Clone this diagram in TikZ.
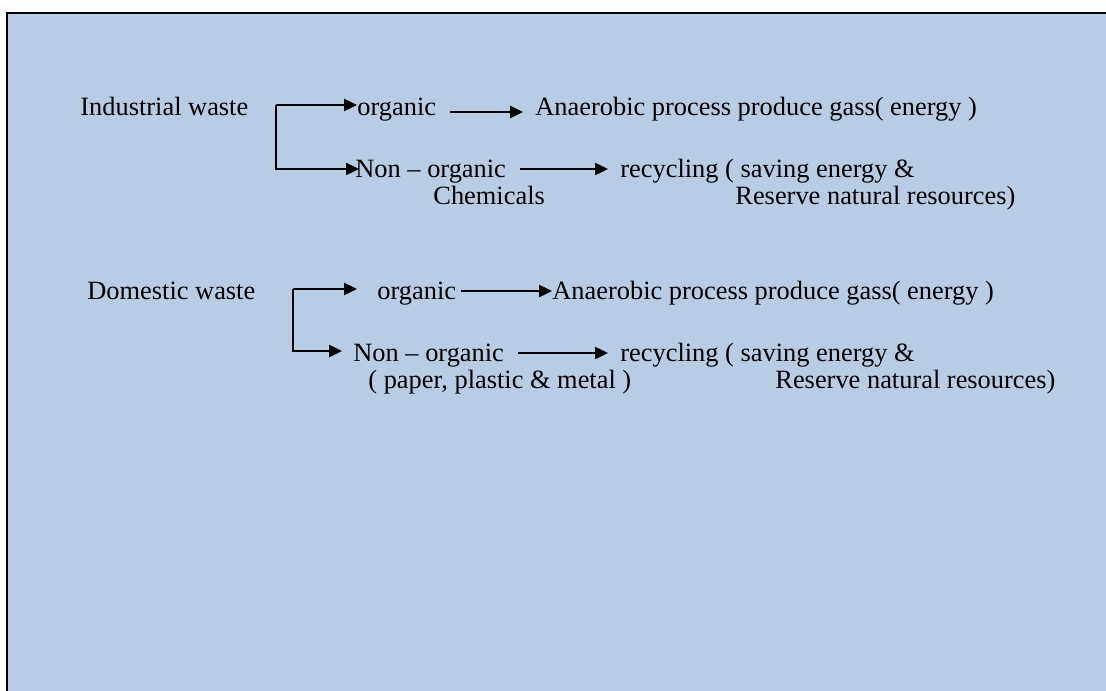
\documentclass[tikz,border=0pt]{standalone}
\usepackage{fontspec}
\setmainfont{Liberation Serif}
\usetikzlibrary{arrows.meta}
\definecolor{boxblue}{HTML}{B8CCE4}

\begin{document}
\begin{tikzpicture}[x=0.5pt,y=-0.5pt,
  lbl/.style={anchor=base west,inner sep=0pt,font=\fontsize{13.2}{16}\selectfont},
  arr/.style={line width=1.2pt,-{Triangle[length=6.5pt,width=6pt]}}]
  \useasboundingbox (0,0) rectangle (1106,690);
  % frame
  \fill[boxblue] (7,13) rectangle (1120,700);
  \draw[line width=1.2pt] (7,700)--(7,13)--(1120,13);
  % industrial waste
  \node[lbl] (iw) at (80,115) {Industrial waste};
  \node[lbl] (iorg) at (357,115) {organic};
  \node[lbl] (ian) at (535,115) {Anaerobic process produce gass( energy )};
  \node[lbl] (inon) at (355,177) {Non -- organic};
  \node[lbl] (ichem) at (433,204) {Chemicals};
  \node[lbl] (irec) at (620,177) {recycling ( saving energy \&};
  \node[lbl] (ires) at (735,204) {Reserve natural resources)};
  \coordinate (ibr) at (276,105);
  \draw[arr] (ibr) -- (ibr -| iorg.west);
  \draw[arr] (ibr) |- ([yshift=4pt,xshift=2pt]inon.base west);
  \draw[arr] ([yshift=1.5pt,xshift=7pt]iorg.base east) -- ([yshift=1.5pt,xshift=-6pt]ian.base west);
  \draw[arr] ([yshift=4pt,xshift=7pt]inon.base east) -- ([yshift=4pt,xshift=-6pt]irec.base west);
  % domestic waste
  \node[lbl] (dw) at (87,299) {Domestic waste};
  \node[lbl] (dorg) at (377,299) {organic};
  \node[lbl] (dan) at (552,299) {Anaerobic process produce gass( energy )};
  \node[lbl] (dnon) at (353,361) {Non -- organic};
  \node[lbl] (dpap) at (368,388) {( paper, plastic \& metal )};
  \node[lbl] (drec) at (620,361) {recycling ( saving energy \&};
  \node[lbl] (dres) at (775,388) {Reserve natural resources)};
  \coordinate (dbr) at (293,289);
  \draw[arr] (dbr) -- ([yshift=5pt,xshift=-10pt]dorg.base west);
  \draw[arr] (dbr) |- ([yshift=5pt,xshift=-5.5pt]dnon.base west);
  \draw[arr] ([yshift=4pt,xshift=2.5pt]dorg.base east) -- ([yshift=4pt]dan.base west);
  \draw[arr] ([yshift=4pt,xshift=7pt]dnon.base east) -- ([yshift=4pt,xshift=-6pt]drec.base west);
\end{tikzpicture}
\end{document}
